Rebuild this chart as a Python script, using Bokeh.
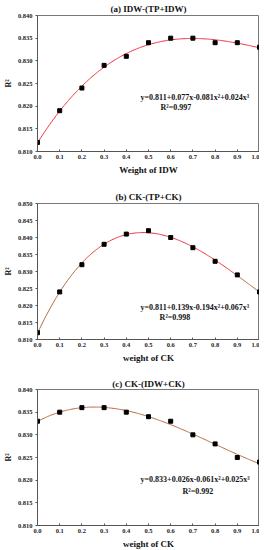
import numpy as np
from bokeh.plotting import figure
from bokeh.models import Label, Range1d, FixedTicker, PrintfTickFormatter
from bokeh.layouts import column
from bokeh.embed import file_html
from bokeh.resources import INLINE

# ---------------- data ----------------
weights = [0.0, 0.1, 0.2, 0.3, 0.4, 0.5, 0.6, 0.7, 0.8, 0.9, 1.0]
r2_idw_tp_idw = [0.812, 0.819, 0.824, 0.829, 0.831, 0.834, 0.835, 0.835, 0.834, 0.834, 0.833]
r2_ck_tp_ck = [0.812, 0.824, 0.832, 0.838, 0.841, 0.842, 0.840, 0.837, 0.833, 0.829, 0.824]
r2_ck_idw_ck = [0.833, 0.835, 0.836, 0.836, 0.835, 0.834, 0.833, 0.830, 0.828, 0.825, 0.824]

x_ticks = [0.0, 0.1, 0.2, 0.3, 0.4, 0.5, 0.6, 0.7, 0.8, 0.9, 1.0]
y_ticks_a = [0.810, 0.815, 0.820, 0.825, 0.830, 0.835, 0.840]
y_ticks_b = [0.810, 0.815, 0.820, 0.825, 0.830, 0.835, 0.840, 0.845, 0.850]
y_ticks_c = [0.810, 0.815, 0.820, 0.825, 0.830, 0.835, 0.840]

titles = ["(a) IDW-(TP+IDW)", "(b) CK-(TP+CK)", "(c) CK-(IDW+CK)"]
x_labels = ["Weight of IDW", "weight of CK", "weight of CK"]
equations = ["y=0.811+0.077x-0.081x\u00b2+0.024x\u00b3",
             "y=0.811+0.139x-0.194x\u00b2+0.067x\u00b3",
             "y=0.833+0.026x-0.061x\u00b2+0.025x\u00b3"]
r2_texts = ["R\u00b2=0.997", "R\u00b2=0.998", "R\u00b2=0.992"]

FONT = "Liberation Serif"
RED = "#f2303f"
BROWN = "#b56a40"
AXIS_COL = "#555555"


def make_panel(y, yticks, title, xlabel, eq, r2t, top, bottom,
               title_standoff, eq_pos, r2_pos, segments):
    y0, y1 = yticks[0], yticks[-1]
    p = figure(frame_width=222, frame_height=136,
               output_backend="svg", toolbar_location=None,
               x_range=Range1d(0, 1), y_range=Range1d(y0, y1),
               min_border_left=34, min_border_right=0,
               min_border_top=top, min_border_bottom=bottom)
    p.title.text = title
    p.title.text_font = FONT
    p.title.text_font_style = "bold"
    p.title.text_font_size = "9px"
    p.title.align = "center"
    p.title.text_color = "#111111"
    p.title.standoff = title_standoff
    p.xgrid.visible = False
    p.ygrid.visible = False
    p.outline_line_color = "#777777"
    p.outline_line_width = 1
    p.background_fill_color = "white"

    for ax in (p.xaxis[0], p.yaxis[0]):
        ax.axis_line_color = AXIS_COL
        ax.major_tick_line_color = AXIS_COL
        ax.minor_tick_line_color = None
        ax.major_label_text_font = FONT
        ax.major_label_text_font_style = "bold"
        ax.major_label_text_font_size = "6.5px"
        ax.major_label_text_color = "#222222"
        ax.axis_label_text_font = FONT
        ax.axis_label_text_font_style = "bold"
        ax.axis_label_text_font_size = "9px"
        ax.axis_label_text_color = "#111111"

    p.xaxis.ticker = FixedTicker(ticks=x_ticks)
    p.xaxis.formatter = PrintfTickFormatter(format="%.1f")
    p.xaxis.major_tick_in = 2
    p.xaxis.major_tick_out = 0
    p.xaxis.major_label_standoff = 3
    p.xaxis.axis_label = xlabel
    p.xaxis.axis_label_standoff = 3

    p.yaxis.ticker = FixedTicker(ticks=yticks)
    p.yaxis.formatter = PrintfTickFormatter(format="%.3f")
    p.yaxis.major_tick_in = 0
    p.yaxis.major_tick_out = 2
    p.yaxis.major_label_standoff = 3
    p.yaxis.axis_label = "R\u00b2"
    p.yaxis.axis_label_standoff = 2
    p.yaxis.axis_label_text_font_size = "8px"

    # cubic fit curve computed from the data points
    coef = np.polyfit(weights, y, 3)
    xs = np.linspace(0, 1, 201)
    ys = np.polyval(coef, xs)
    for (a, b, col) in segments:
        m = (xs >= a - 1e-9) & (xs <= b + 1e-9)
        p.line(xs[m], ys[m], line_color=col, line_width=1.0)

    p.scatter(weights, y, marker="square", size=4, color="black")

    p.add_layout(Label(x=eq_pos[0], y=eq_pos[1], text=eq,
                       text_font=FONT, text_font_style="bold",
                       text_font_size="8px", text_align="left",
                       text_baseline="middle", text_color="#111111"))
    p.add_layout(Label(x=r2_pos[0], y=r2_pos[1], text=r2t,
                       text_font=FONT, text_font_style="bold",
                       text_font_size="8px", text_align="left",
                       text_baseline="middle", text_color="#111111"))
    return p


pa = make_panel(r2_idw_tp_idw, y_ticks_a, titles[0], x_labels[0], equations[0], r2_texts[0],
                top=15, bottom=36, title_standoff=3,
                eq_pos=(0.464, 0.8219), r2_pos=(0.554, 0.8197),
                segments=[(0, 1, RED)])
pb = make_panel(r2_ck_tp_ck, y_ticks_b, titles[1], x_labels[1], equations[1], r2_texts[1],
                top=16, bottom=36, title_standoff=3,
                eq_pos=(0.464, 0.8195), r2_pos=(0.550, 0.8166),
                segments=[(0, 0.2, BROWN), (0.2, 0.88, RED), (0.88, 1, BROWN)])
pc = make_panel(r2_ck_idw_ck, y_ticks_c, titles[2], x_labels[2], equations[2], r2_texts[2],
                top=14, bottom=25, title_standoff=1,
                eq_pos=(0.464, 0.8201), r2_pos=(0.653, 0.8176),
                segments=[(0, 1, BROWN)])

layout = column(pa, pb, pc)

open("out.html", "w").write(file_html(layout, INLINE))
